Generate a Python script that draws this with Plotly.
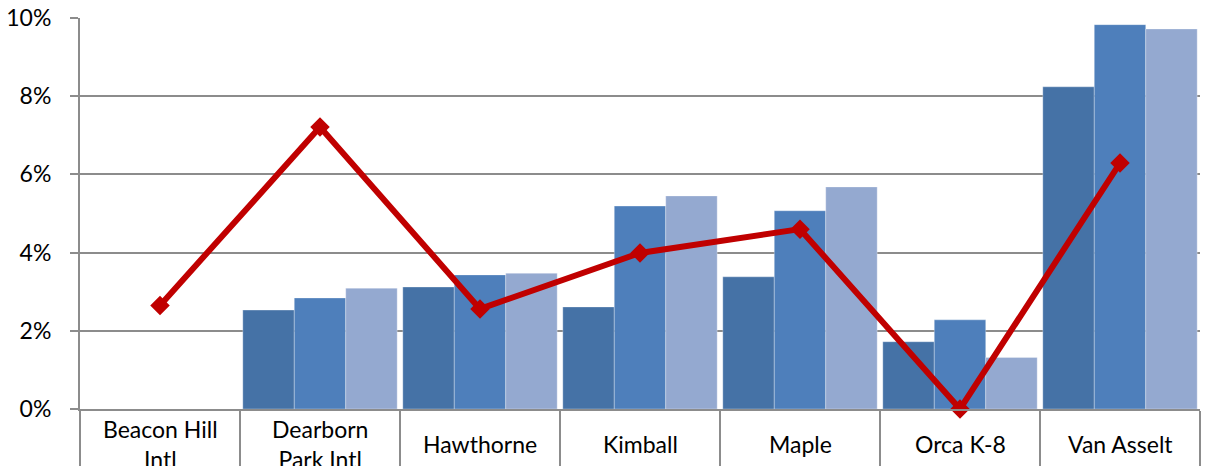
import plotly.graph_objects as go

categories = ["Beacon Hill Intl", "Dearborn Park Intl", "Hawthorne", "Kimball", "Maple", "Orca K-8", "Van Asselt"]
tick_labels = ["Beacon Hill<br>Intl", "Dearborn<br>Park Intl", "Hawthorne", "Kimball", "Maple", "Orca K-8", "Van Asselt"]
series1 = [None, 0.0253, 0.0312, 0.0261, 0.0338, 0.0172, 0.0824]
series2 = [None, 0.0284, 0.0343, 0.0519, 0.0507, 0.0228, 0.0983]
series3 = [None, 0.0309, 0.0347, 0.0545, 0.0568, 0.0132, 0.0972]
line_vals = [0.0265, 0.0721, 0.0256, 0.0399, 0.0460, 0.0000, 0.0629]

bar_colors = ["#4572A6", "#4E7FBB", "#94A9D0"]
names = ["Series 1", "Series 2", "Series 3"]

fig = go.Figure()
for vals, col, nm in zip([series1, series2, series3], bar_colors, names):
    fig.add_trace(go.Bar(
        x=categories, y=vals, name=nm,
        marker=dict(color=col, line=dict(color="rgba(255,255,255,0.3)", width=1)),
    ))

fig.add_trace(go.Scatter(
    x=categories, y=line_vals, mode="lines+markers", name="Line",
    line=dict(color="#C00000", width=6),
    marker=dict(symbol="diamond", size=15, color="#C00000"),
    cliponaxis=False,
))

font_family = "Lato, 'Open Sans', sans-serif"

for cat, lab in zip(categories, tick_labels):
    fig.add_annotation(
        x=cat, y=-0.09, xref="x", yref="paper",
        text=lab, showarrow=False, yanchor="middle", xanchor="center",
        font=dict(family=font_family, size=23, color="#000000"),
    )

fig.update_layout(
    width=1205, height=466,
    margin=dict(l=80, r=5, t=18, b=57, autoexpand=False),
    paper_bgcolor="white", plot_bgcolor="white",
    barmode="group", bargap=0.035, bargroupgap=0,
    showlegend=False,
    font=dict(family=font_family, size=23, color="#000000"),
)

fig.update_xaxes(
    type="category", automargin=False,
    showticklabels=False,
    ticks="outside", tickson="boundaries", ticklen=60, tickwidth=2, tickcolor="#8C8C8C",
    showline=True, linecolor="#8C8C8C", linewidth=2,
    showgrid=False,
)
fig.update_yaxes(
    range=[0, 0.1], dtick=0.02, tickformat=".0%", automargin=False,
    showgrid=True, gridcolor="#8C8C8C", gridwidth=2,
    ticks="outside", ticklen=8, tickwidth=2, tickcolor="#8C8C8C",
    showline=True, linecolor="#8C8C8C", linewidth=2,
    zeroline=False,
    ticklabelstandoff=14,
    tickfont=dict(family=font_family, size=23, color="#000000"),
)

fig.write_html(
    "out.html",
    config={"displayModeBar": False},
    post_script="document.body.style.margin='0';document.body.style.overflow='hidden';",
)
